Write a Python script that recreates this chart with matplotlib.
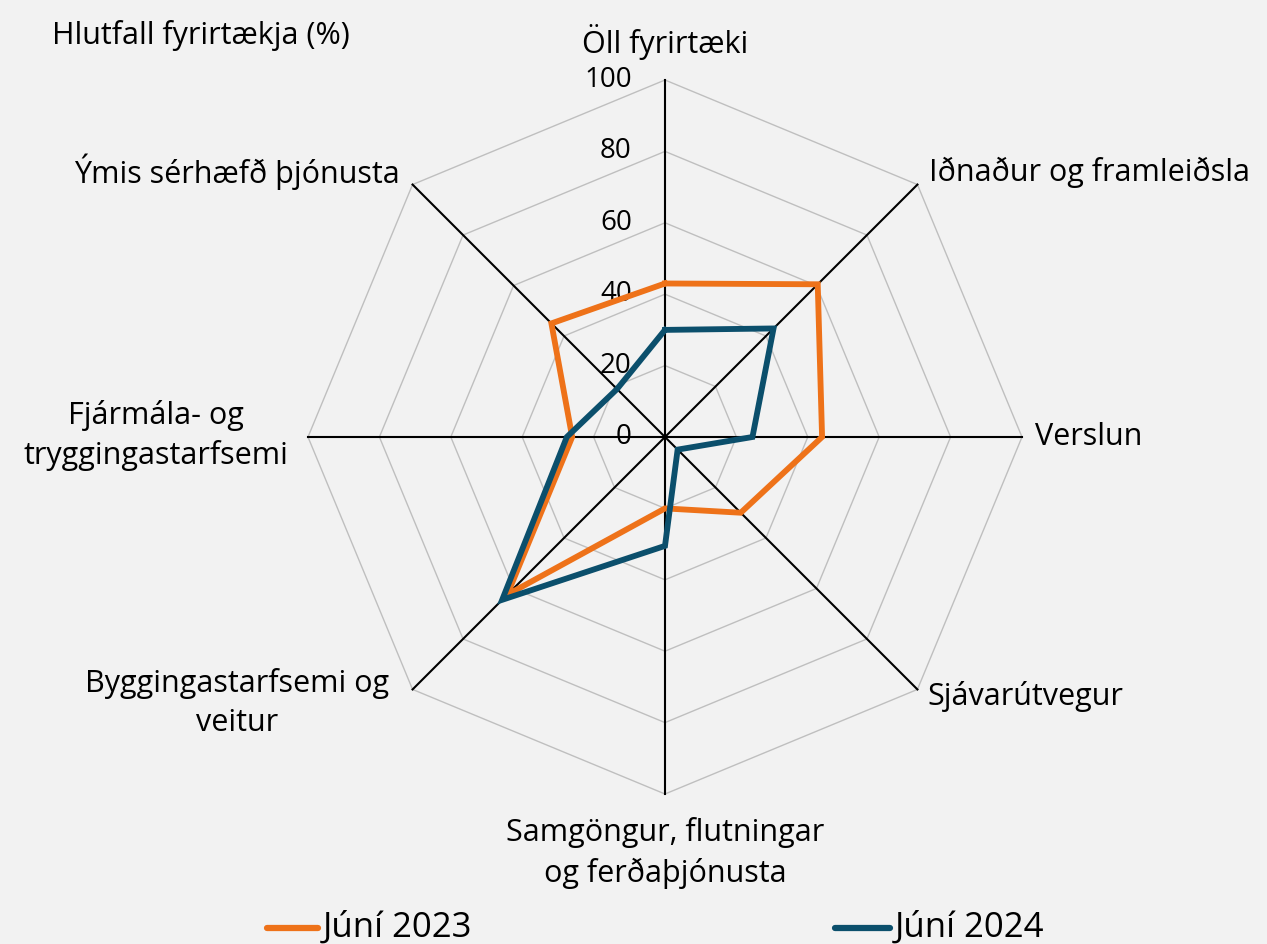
import numpy as np
import matplotlib.pyplot as plt

categories = ['Öll fyrirtæki', 'Iðnaður og framleiðsla', 'Verslun', 'Sjávarútvegur',
              'Samgöngur, flutningar\nog ferðaþjónusta', 'Byggingastarfsemi og\nveitur',
              'Fjármála- og\ntryggingastarfsemi', 'Ýmis sérhæfð þjónusta']
jun_2023 = [43, 60.5, 44, 30, 20, 62.5, 26, 45]
jun_2024 = [30, 43, 24.5, 5, 30.5, 64.5, 27.5, 19]
ticks = [0, 20, 40, 60, 80, 100]

orange = '#EE7219'
blue = '#0B4F6C'
bg = '#F2F2F2'

plt.rcParams['font.family'] = ['Open Sans', 'DejaVu Sans']

n = len(categories)
ang = np.arange(n) * 2 * np.pi / n


def xy(vals):
    v = np.asarray(vals, dtype=float)
    x = v * np.sin(ang)
    y = v * np.cos(ang)
    return np.append(x, x[0]), np.append(y, y[0])


fig = plt.figure(figsize=(12.67, 9.44), dpi=100, facecolor=bg)
ax = fig.add_axes([0, 0, 1, 1])
ax.set_facecolor(bg)
s = 3.57
ax.set_xlim(-665 / s, (1267 - 665) / s)
ax.set_ylim((437 - 944) / s, 437 / s)
ax.axis('off')

# polygon grid
for t in ticks[1:]:
    gx, gy = xy([t] * n)
    ax.plot(gx, gy, color='#BFBFBF', lw=1.0, zorder=1)
# spokes
for a in ang:
    ax.plot([0, 100 * np.sin(a)], [0, 100 * np.cos(a)], color='black', lw=1.5, zorder=2)

# tick labels
for t in ticks:
    ax.text(-9.3, t, str(t), ha='right', va='center', fontsize=20, zorder=3)

x1, y1 = xy(jun_2023)
x2, y2 = xy(jun_2024)
ax.plot(x1, y1, color=orange, lw=4.2, zorder=4, solid_joinstyle='miter')
ax.plot(x2, y2, color=blue, lw=4.2, zorder=5, solid_joinstyle='miter')

# category labels
fs = 22
ls = 1.38
ax.text(0, 110.6, categories[0], ha='center', va='center', fontsize=fs)
ax.text(74, 74.2, categories[1], ha='left', va='center', fontsize=fs)
ax.text(103.6, 0, categories[2], ha='left', va='center', fontsize=fs)
ax.text(73.5, -72.8, categories[3], ha='left', va='center', fontsize=fs)
ax.text(0, -116.5, categories[4], ha='center', va='center', fontsize=fs, linespacing=ls)
ax.text(-119.9, -74.5, categories[5], ha='center', va='center', fontsize=fs, linespacing=ls)
ax.text(-142.6, 0.3, categories[6], ha='center', va='center', fontsize=fs, linespacing=ls)
ax.text(-74.2, 74.2, categories[7], ha='right', va='center', fontsize=fs)

# axis title
ax.text(-171.7, 112.6, 'Hlutfall fyrirtækja (%)', ha='left', va='center', fontsize=fs)

# legend
ax.plot([-111.5, -97.2], [-137.5, -137.5], color=orange, lw=4.5, solid_capstyle='round')
ax.text(-96, -137.5, 'Júní 2023', ha='left', va='center', fontsize=25)
ax.plot([47.6, 63], [-137.5, -137.5], color=blue, lw=4.5, solid_capstyle='round')
ax.text(64.4, -137.5, 'Júní 2024', ha='left', va='center', fontsize=25)

fig.savefig('out.png', dpi=100, facecolor=bg)
